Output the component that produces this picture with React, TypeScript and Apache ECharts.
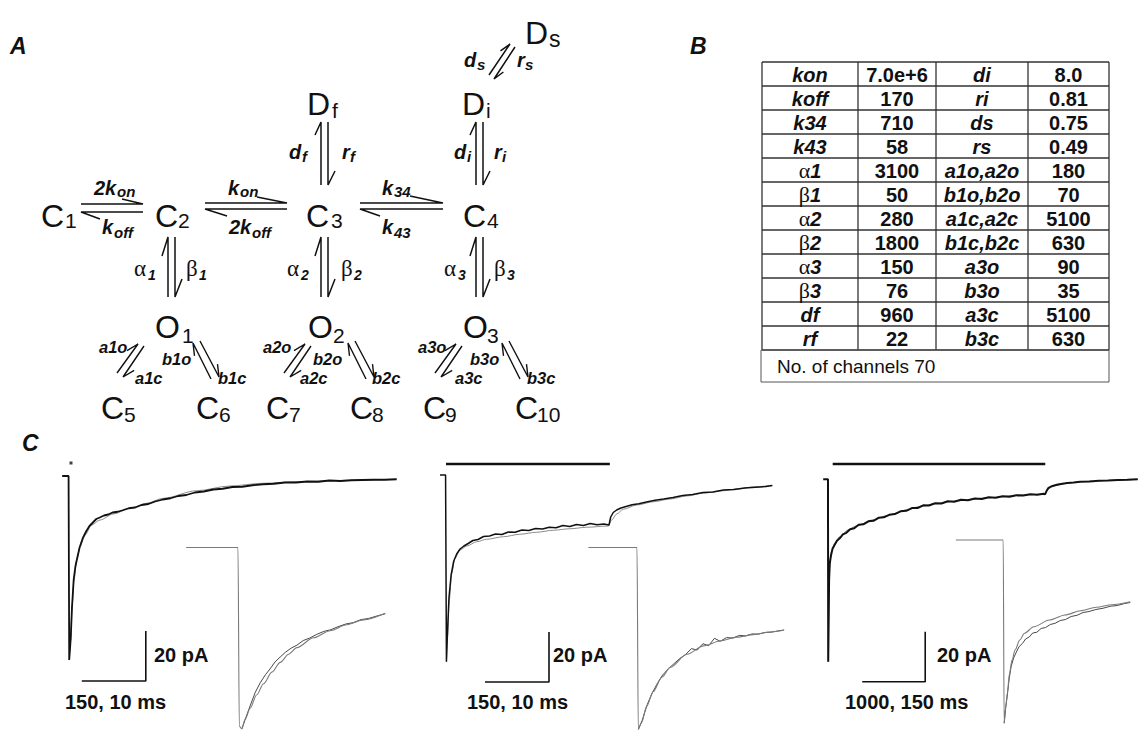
import React, { useEffect, useRef } from "react";
import * as echarts from "echarts";

// ---------- Panel B: fitted rate constants ----------
const paramNames = ["kon", "koff", "k34", "k43", "α1", "β1", "α2", "β2", "α3", "β3", "df", "rf"];
const paramValues = ["7.0e+6", "170", "710", "58", "3100", "50", "280", "1800", "150", "76", "960", "22"];
const paramNames2 = ["di", "ri", "ds", "rs", "a1o,a2o", "b1o,b2o", "a1c,a2c", "b1c,b2c", "a3o", "b3o", "a3c", "b3c"];
const paramValues2 = ["8.0", "0.81", "0.75", "0.49", "180", "70", "5100", "630", "90", "35", "5100", "630"];
const channelsNote = "No. of channels 70";

// ---------- Panel C: traces, [time (ms), current (pA)] ----------
const trace1Data = [[-16,0],[-1,0],[0,0],[0.5,-73.6],[4,-65],[7,-52.6],[11,-41.4],[15,-36.2],[19,-33],[25,-28.5],[32,-25],[40,-22.2],[48,-20],[56,-18.6],[64,-17.2],[72,-16.6],[82,-15.8],[92,-15.4],[102,-14.6],[114,-14.3],[126,-13.7],[140,-12.9],[155,-12.6],[170,-11.6],[186,-11.2],[202,-10.2],[220,-9.4],[238,-8.9],[256,-8.0],[275,-7.6],[295,-6.6],[316,-6.2],[338,-5.4],[360,-5.1],[383,-4.4],[406,-4.3],[430,-3.7],[455,-3.3],[480,-3.1],[506,-2.6],[532,-2.6],[558,-2.2],[584,-2.3],[610,-1.8],[636,-2.0],[662,-1.7],[688,-1.6],[714,-1.5],[740,-1.5],[768,-1.3]];
const trace1Fit = [[0.5,-73.6],[4,-65.6],[7,-52.3],[11.7,-41.6],[18,-33.6],[25.8,-28.3],[37.5,-23.6],[53.2,-19.6],[72.6,-17.6],[103.8,-15.2],[143,-12.9],[182,-10.9],[221,-8.9],[299,-5.9],[377,-4.0],[455,-2.9],[534,-2.3],[612,-1.9],[690,-1.6],[768,-1.3]];
const inset1Fit = [[-8.1,0],[0,0],[0.2,-72.8],[0.6,-73.9],[1.1,-70.1],[1.9,-65.5],[2.9,-60.1],[4.0,-55.5],[5.3,-50.8],[6.6,-46.8],[7.9,-43.5],[9.2,-40.8],[11.8,-36.8],[14.4,-33.9],[17.0,-31.5],[19.6,-29.5],[23.0,-26.8]];
const inset1Data = [[0.6,-73.9],[1.2,-69.5],[2.0,-63.8],[2.7,-59.0],[3.5,-55.0],[4.3,-51.8],[5.0,-49.5],[5.8,-46.6],[6.6,-44.6],[7.4,-42.7],[8.3,-41.0],[9.2,-39.8],[10.2,-37.9],[11.2,-36.9],[12.3,-35.4],[13.4,-34.2],[14.5,-33.5],[15.6,-32.3],[16.8,-31.2],[18.0,-30.6],[19.2,-29.4],[20.4,-28.9],[21.7,-27.9],[23.0,-27.0]];

const trace2Data = [[-14,0],[-1,0],[0,0],[1,-74.7],[3,-65],[7,-49],[12,-40],[18,-34.5],[25,-31.6],[33,-29.6],[42,-28.4],[52,-27.4],[63,-26.2],[75,-25.8],[88,-24.6],[102,-24.4],[116,-23.6],[131,-23.8],[146,-22.8],[162,-22.9],[178,-22.0],[194,-22.2],[210,-21.4],[226,-21.6],[242,-20.9],[258,-21.1],[274,-20.2],[290,-20.6],[306,-19.8],[322,-20.2],[338,-19.4],[354,-19.9],[370,-19.6],[382,-20.0],[386,-16.8],[392,-15.0],[400,-14.0],[410,-13.2],[422,-12.6],[436,-11.9],[452,-11.5],[470,-10.8],[490,-10.1],[510,-9.6],[532,-9.0],[555,-8.2],[578,-7.8],[602,-7.0],[626,-6.8],[650,-6.0],[675,-5.8],[700,-5.2],[725,-4.9],[750,-4.6],[765,-4.2]];
const trace2Fit = [[1,-74.7],[3,-66],[7.7,-50],[13.4,-39.3],[21.1,-33.3],[32.8,-30],[48.5,-28.4],[72,-26.7],[95.4,-25.7],[134.3,-24.7],[173.4,-23.7],[212.6,-22.9],[251.5,-22.1],[290.6,-21.5],[329.7,-20.9],[380.4,-20.4],[388.3,-18],[400,-15.6],[415.5,-13.7],[446.9,-12],[485.8,-10.7],[525,-9.6],[564,-8.4],[603,-7.3],[642,-6.4],[681,-5.6],[720,-4.8],[763,-4.1]];
const inset2Fit = [[-7.6,0],[0,0],[0.2,-74.1],[0.7,-71.5],[1.5,-64.8],[2.5,-58.8],[3.9,-52.8],[5.2,-48.8],[7.8,-43.5],[10.4,-40.1],[13,-38.1],[15.6,-36.5],[18.2,-35.5],[20.8,-34.4],[22.9,-33.7]];
const inset2Data = [[0.2,-74.1],[0.8,-70.5],[1.6,-64.0],[2.4,-59.2],[3.2,-55.3],[4.0,-52.0],[4.9,-49.4],[5.8,-47.3],[6.7,-45.2],[7.6,-43.6],[8.5,-41.2],[9.4,-41.8],[10.3,-39.2],[11.2,-40.0],[12.1,-37.0],[13.0,-38.2],[14.0,-36.7],[15.0,-36.9],[16.0,-35.8],[17.0,-36.0],[18.0,-35.2],[19.0,-35.3],[20.0,-34.6],[21.0,-34.5],[22.0,-34.0],[23.0,-33.6]];

const trace3Data = [[-78,0],[-2,0],[0,0],[2,-73],[16,-40.3],[27,-33.6],[45,-30.6],[70,-27.8],[100,-26.4],[140,-24.6],[185,-23.6],[235,-22.0],[290,-21.4],[350,-20.0],[415,-19.6],[485,-18.2],[560,-18.0],[640,-16.8],[720,-16.6],[800,-15.4],[885,-15.2],[970,-14.2],[1060,-13.9],[1150,-12.8],[1240,-12.6],[1330,-11.5],[1420,-11.5],[1510,-10.4],[1600,-10.5],[1700,-9.6],[1800,-9.7],[1900,-8.8],[2000,-9.0],[2110,-8.2],[2220,-8.4],[2330,-7.7],[2440,-7.9],[2550,-7.2],[2660,-7.4],[2770,-6.8],[2880,-7.0],[2990,-6.4],[3100,-6.5],[3210,-6.0],[3320,-6.2],[3420,-5.8],[3445,-6.0],[3470,-4.6],[3500,-3.4],[3540,-2.9],[3590,-2.5],[3650,-2.1],[3720,-1.8],[3800,-1.5],[3900,-1.3],[4000,-1.0],[4150,-0.9],[4300,-0.6],[4450,-0.5],[4600,-0.3],[4750,-0.2],[4917,0]];
const trace3Fit = [[2,-73],[16,-40.3],[27,-33.6],[53,-29],[105,-25.6],[183,-23],[313,-20.3],[444,-18.7],[703,-16.3],[964,-14.3],[1225,-12.3],[1484,-10.7],[1745,-9.6],[2006,-8.7],[2527,-7.4],[3047,-6.3],[3438,-5.9],[3491,-4],[3569,-2.7],[3828,-1.4],[4089,-0.8],[4609,-0.3],[4917,0]];
const inset3Fit = [[-118.6,0],[0,0],[2.3,-73.3],[6.3,-66.7],[10.3,-61.3],[15.7,-53.3],[22,-48],[29.8,-44],[41.5,-40],[53.2,-37.3],[76.6,-34.7],[115.8,-32],[154.7,-30],[193.8,-28.3],[233,-26.9],[271.9,-25.9],[318,-24.7]];
const inset3Data = [[2.3,-73.3],[6,-67.5],[10,-62.5],[15,-55.5],[20,-50.5],[26,-47.2],[33,-44.8],[40,-42.6],[48,-41.4],[56,-39.6],[65,-38.8],[74,-37.2],[84,-36.9],[95,-35.4],[106,-35.0],[118,-33.8],[130,-33.3],[143,-32.2],[156,-31.8],[170,-30.6],[185,-30.1],[200,-29.0],[215,-28.6],[232,-27.8],[250,-27.3],[268,-26.5],[286,-26.2],[304,-25.4],[318,-25.0]];

// stimulus (agonist) bars and scale bars, [ms, pA]
const stim1 = [[4.7, 5.2]];
const stim2 = [[0, 4.4], [384, 4.4]];
const stim3 = [[73, 6.1], [3448, 6.1]];
const scaleBar1 = [[30, -82], [180, -82], [180, -62]];
const scaleBar2 = [[91.4, -82.8], [241.4, -82.8], [241.4, -62.8]];
const scaleBar3 = [[542, -81], [1542, -81], [1542, -61]];
const scaleLabels = ["20 pA", "150, 10 ms", "20 pA", "150, 10 ms", "20 pA", "1000, 150 ms"];

// ---------- styling helpers ----------
const SANS = '"Liberation Sans", Arial, Helvetica, sans-serif';
const SERIF = '"Liberation Serif", "Times New Roman", serif';
const INK = "#111";
const font = (st: string, size: number, fam = SANS) => `${st} ${size}px ${fam}`;

function txt(x: number, y: number, text: string, f: string, align = "left") {
  return {
    type: "text", x, y, silent: true,
    style: { text, font: f, fill: INK, align, textAlign: align, verticalAlign: "middle", textVerticalAlign: "middle" },
  };
}
function pl(points: number[][], w = 1.5, color = INK) {
  return { type: "polyline", silent: true, shape: { points }, style: { stroke: color, lineWidth: w, fill: null } };
}
function ln(x1: number, y1: number, x2: number, y2: number, w = 1.2, color = "#333") {
  return { type: "line", silent: true, shape: { x1, y1, x2, y2 }, style: { stroke: color, lineWidth: w } };
}

function buildGraphic() {
  const els: any[] = [];
  // panel letters
  els.push(txt(10, 46, "A", font("italic bold", 23)));
  els.push(txt(690, 46, "B", font("italic bold", 23)));
  els.push(txt(22, 443, "C", font("italic bold", 23)));

  // states of scheme A
  const states: any[] = [
    ["C", 41, 216, "1", 65, 220.5], ["C", 155, 216, "2", 178, 220.5], ["C", 306, 216, "3", 331, 220.5], ["C", 463, 216, "4", 487, 220.5],
    ["D", 307, 103.5, "f", 332, 110], ["D", 462, 103.5, "i", 486, 110],
    ["O", 155, 326.5, "1", 182, 335.5], ["O", 308, 326.5, "2", 333, 335.5], ["O", 463, 326.5, "3", 487, 335.5],
    ["C", 101, 408, "5", 124, 414.5], ["C", 196, 408, "6", 219, 414.5], ["C", 266, 408, "7", 289, 414.5],
    ["C", 350, 408, "8", 372, 414.5], ["C", 423, 408, "9", 445, 414.5], ["C", 515, 408, "10", 537, 414.5],
  ];
  states.forEach(([m, x, y, s, sx, sy]) => {
    els.push(txt(x, y, m, font("normal", 32)));
    els.push(txt(sx, sy, s, font("normal", 21)));
  });
  els.push(txt(525, 33, "D", font("normal", 32)));
  els.push(txt(549, 39, "s", font("normal", 23)));

  // rate labels (bold italic with subscript)
  const rates: any[] = [
    ["2k", 94, 187.5, "on", 117, 191.5], ["k", 102, 226.7, "off", 114, 232],
    ["k", 228, 187.5, "on", 240, 191.5], ["2k", 229, 226.7, "off", 252, 232],
    ["k", 382, 187.5, "34", 394, 191.5], ["k", 382, 226.7, "43", 394, 232],
    ["d", 289, 151.7, "f", 302, 156], ["r", 342, 151.7, "f", 350, 156],
    ["d", 454, 151.7, "i", 467, 156], ["r", 494, 151.7, "i", 502, 156],
    ["d", 464, 59.7, "s", 477, 64], ["r", 517, 59.7, "s", 525, 64],
  ];
  rates.forEach(([m, x, y, s, sx, sy]) => {
    els.push(txt(x, y, m, font("italic bold", 20)));
    els.push(txt(sx, sy, s, font("italic bold", 15)));
  });
  const greek: any[] = [
    ["α", 134, 268, "1", 148, 274.5], ["β", 186, 268, "1", 199, 274.5],
    ["α", 287, 268, "2", 301, 274.5], ["β", 341, 268, "2", 354, 274.5],
    ["α", 444, 268, "3", 458, 274.5], ["β", 494, 268, "3", 507, 274.5],
  ];
  greek.forEach(([m, x, y, s, sx, sy]) => {
    els.push(txt(x, y, m, font("normal", 23, SERIF)));
    els.push(txt(sx, sy, s, font("italic bold", 14)));
  });
  const diagLabels: any[] = [
    ["a1o", 99, 347.4], ["b1o", 162, 359.4], ["a1c", 135, 378.4], ["b1c", 218, 378.4],
    ["a2o", 263, 347.4], ["b2o", 313, 359.4], ["a2c", 300, 378.4], ["b2c", 372, 378.4],
    ["a3o", 418, 347.4], ["b3o", 470, 359.4], ["a3c", 455, 378.4], ["b3c", 527, 378.4],
  ];
  diagLabels.forEach(([t, x, y]) => els.push(txt(x, y, t, font("italic bold", 16.5))));

  // half-arrows: [barb end, tip, tail]
  const arrows: number[][][] = [
    [[122, 199], [143, 204], [81, 204]], [[100, 219], [81, 212], [143, 212]],
    [[257, 197], [287, 203], [205, 203]], [[227, 216], [205, 209], [287, 209]],
    [[410, 196], [443, 203], [360, 203]], [[380, 216], [360, 209], [443, 209]],
    [[315, 135], [321, 122], [321, 185]], [[335, 171], [328, 185], [328, 122]],
    [[470, 135], [476, 122], [476, 185]], [[490, 171], [483, 185], [483, 122]],
    [[162, 256], [168, 237], [168, 297]], [[182, 279], [175, 297], [175, 237]],
    [[315, 256], [321, 237], [321, 297]], [[335, 279], [328, 297], [328, 237]],
    [[470, 256], [476, 237], [476, 297]], [[490, 279], [483, 297], [483, 237]],
    [[500.5, 50.9], [510, 44], [489, 75]], [[503.4, 72], [494, 79], [515, 47]],
  ];
  arrows.forEach((a) => els.push(pl(a, 1.5)));
  const leftPair = [
    [[127, 350.6], [138, 344], [117, 373]],
    [[134.2, 370.4], [123, 377], [144, 346]],
  ];
  const rightPair = [
    [[194.5, 355.8], [193, 343], [211, 379]],
    [[217.5, 364.2], [219, 377], [200, 341]],
  ];
  [0, 167, 318].forEach((dx) => leftPair.forEach((a) => els.push(pl(a.map(([x, y]) => [x + dx, y]), 1.4))));
  [0, 155, 309].forEach((dx) => rightPair.forEach((a) => els.push(pl(a.map(([x, y]) => [x + dx, y]), 1.4))));

  // table B
  const colX = [762, 858, 936, 1028, 1109];
  const rowTop = 62, rowH = 24;
  const nRows = paramNames.length;
  for (let i = 0; i <= nRows; i++) els.push(ln(colX[0], rowTop + i * rowH, colX[4], rowTop + i * rowH, 1.3));
  colX.forEach((x) => els.push(ln(x, rowTop, x, rowTop + nRows * rowH, 1.3)));
  els.push({ type: "rect", silent: true, shape: { x: 761, y: rowTop + nRows * rowH, width: 348, height: 32 }, style: { stroke: "#555", lineWidth: 1, fill: null } });
  els.push(txt(777, rowTop + nRows * rowH + 16, channelsNote, font("normal", 19)));
  const cx = [810, 897, 982, 1068.5];
  for (let i = 0; i < nRows; i++) {
    const cy = rowTop + i * rowH + 12.5;
    const n = paramNames[i];
    if (n[0] === "α" || n[0] === "β") {
      els.push({
        type: "text", x: cx[0], y: cy, silent: true,
        style: {
          text: `{g|${n[0]}}{b|${n.slice(1)}}`,
          rich: {
            g: { fontFamily: SERIF, fontSize: 22, fontWeight: "normal", fontStyle: "normal", fill: INK },
            b: { fontFamily: SANS, fontSize: 20, fontWeight: "bold", fontStyle: "italic", fill: INK },
          },
          fill: INK, align: "center", textAlign: "center", verticalAlign: "middle", textVerticalAlign: "middle",
        },
      });
    } else {
      els.push(txt(cx[0], cy, n, font("italic bold", 20), "center"));
    }
    els.push(txt(cx[1], cy, paramValues[i], font("bold", 20), "center"));
    els.push(txt(cx[2], cy, paramNames2[i], font("italic bold", 20), "center"));
    els.push(txt(cx[3], cy, paramValues2[i], font("bold", 20), "center"));
  }

  // scale-bar labels in C
  const labPos = [[154, 655], [65, 702], [553, 655], [467, 702], [937, 655], [845, 702]];
  scaleLabels.forEach((t, i) => els.push(txt(labPos[i][0], labPos[i][1], t, font("bold", 20))));
  return els;
}

function buildOption() {
  const grids = [
    { left: 60.47, top: 451, width: 341.33, height: 275 },
    { left: 174, top: 523, width: 224, height: 215 },
    { left: 437.47, top: 450, width: 341.33, height: 275 },
    { left: 573, top: 523, width: 224, height: 215 },
    { left: 815.5, top: 454.3, width: 332.8, height: 275 },
    { left: 943.3, top: 515, width: 213.3, height: 215 },
  ];
  const xr = [[-20, 780], [-10, 25], [-20, 780], [-10, 25], [-200, 5000], [-150, 350]];
  const yr = [[-100, 10], [-76, 10], [-100, 10], [-76, 10], [-100, 10], [-76, 10]];
  const line = (g: number, data: number[][], color: string, width: number, smooth: any = false) => ({
    type: "line", xAxisIndex: g, yAxisIndex: g, data, showSymbol: false, symbol: "none",
    smooth, smoothMonotone: smooth ? "x" : undefined, silent: true,
    lineStyle: { color, width }, clip: true,
  });
  const series: any[] = [
    line(0, trace1Fit, "#8c8c8c", 1, 0.3), line(0, trace1Data, INK, 1.8),
    line(1, inset1Data, "#333", 0.9), line(1, inset1Fit, "#7a7a7a", 1.1, 0.3),
    line(2, trace2Fit, "#8c8c8c", 1, 0.3), line(2, trace2Data, INK, 1.5),
    line(3, inset2Data, "#333", 0.9), line(3, inset2Fit, "#7a7a7a", 1.1, 0.3),
    line(4, trace3Fit, "#8c8c8c", 1, 0.3), line(4, trace3Data, INK, 2),
    line(5, inset3Data, "#333", 0.9), line(5, inset3Fit, "#7a7a7a", 1.1, 0.3),
    line(2, stim2, INK, 2.6), line(4, stim3, INK, 2.6),
    line(0, scaleBar1, INK, 1.6), line(2, scaleBar2, INK, 1.6), line(4, scaleBar3, INK, 1.6),
    { type: "scatter", xAxisIndex: 0, yAxisIndex: 0, data: stim1, symbol: "rect", symbolSize: [3, 3], itemStyle: { color: INK }, silent: true },
  ];
  return {
    animation: false,
    backgroundColor: "#ffffff",
    grid: grids,
    xAxis: grids.map((_, i) => ({ type: "value", gridIndex: i, min: xr[i][0], max: xr[i][1], show: false })),
    yAxis: grids.map((_, i) => ({ type: "value", gridIndex: i, min: yr[i][0], max: yr[i][1], show: false })),
    series,
    graphic: { elements: buildGraphic() },
  };
}

export default function App() {
  const ref = useRef<HTMLDivElement>(null);
  useEffect(() => {
    const chart = echarts.init(ref.current as HTMLDivElement, null, { renderer: "svg" });
    chart.setOption(buildOption() as any);
    return () => chart.dispose();
  }, []);
  return (
    <div
      ref={ref}
      style={{ position: "fixed", left: 0, top: 0, width: 1143, height: 734, background: "#fff" }}
    />
  );
}
